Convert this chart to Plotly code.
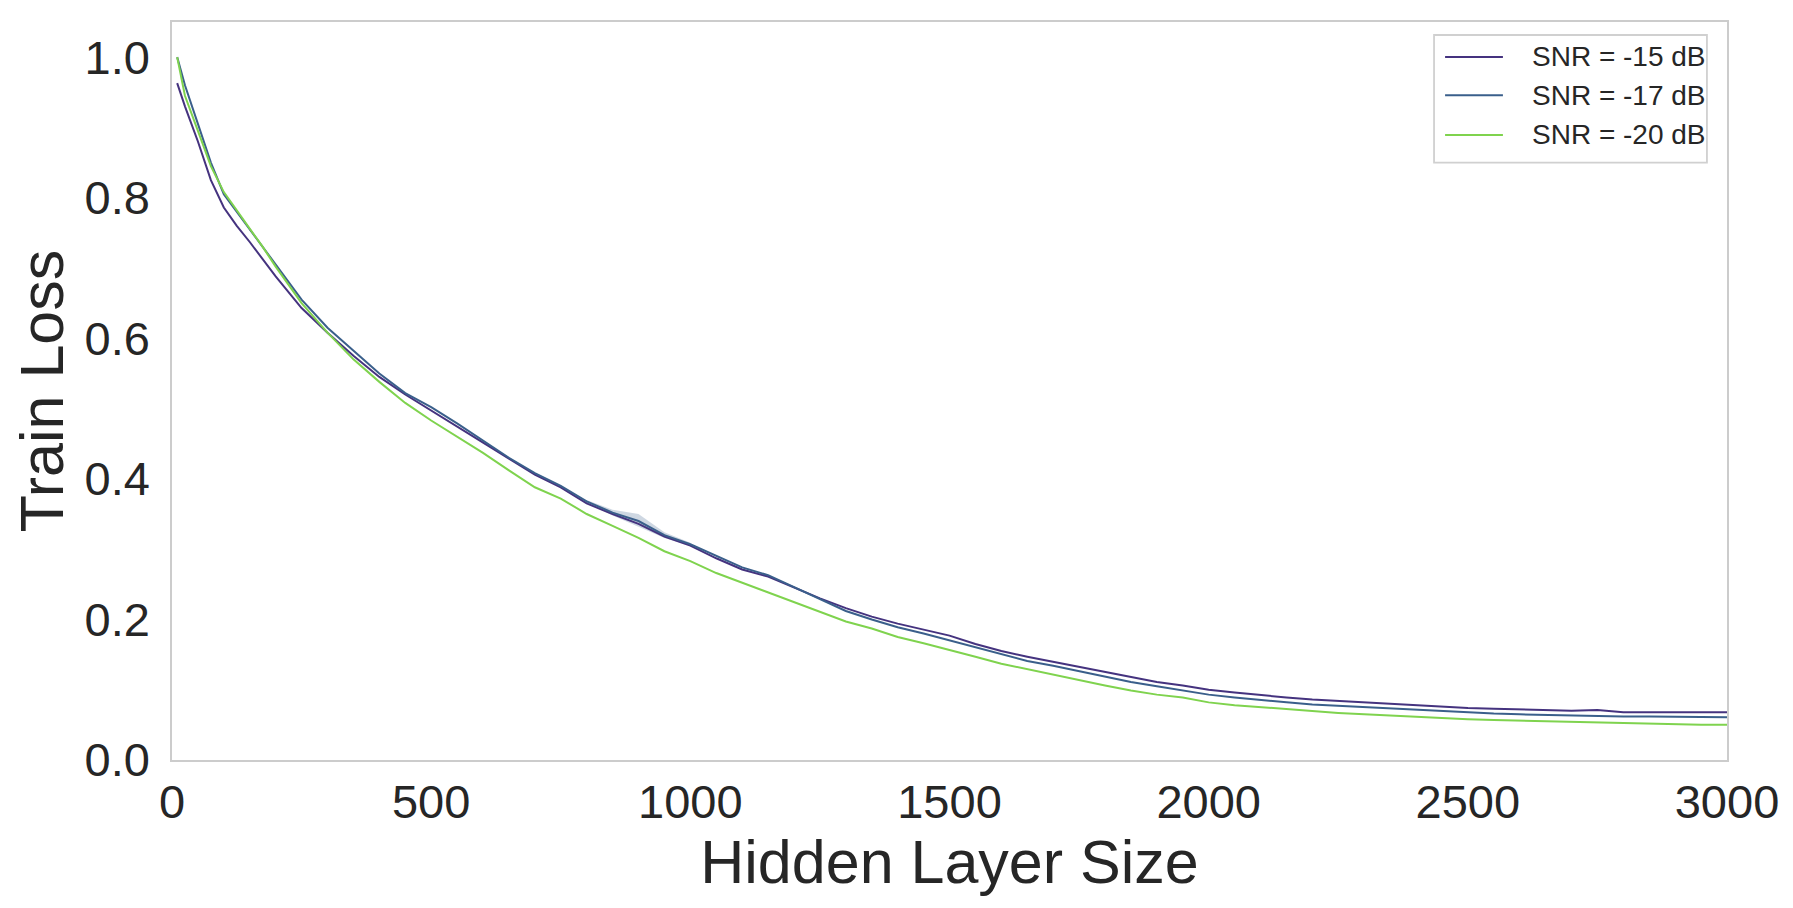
import plotly.graph_objects as go

hidden_sizes = [10, 25, 50, 75, 100, 125, 150, 175, 200, 250, 300, 350, 400, 450, 500, 550,
                600, 650, 700, 750, 800, 850, 900, 950, 1000, 1050, 1100, 1150, 1200, 1250,
                1300, 1350, 1400, 1450, 1500, 1550, 1600, 1650, 1700, 1750, 1800, 1850, 1900,
                1950, 2000, 2050, 2100, 2150, 2200, 2250, 2300, 2350, 2400, 2450, 2500, 2550,
                2600, 2650, 2700, 2750, 2800, 2850, 2900, 2950, 3000]

loss_snr_15 = [0.963, 0.930, 0.880, 0.825, 0.786, 0.760, 0.737, 0.713, 0.688, 0.643, 0.608,
               0.575, 0.545, 0.520, 0.497, 0.475, 0.452, 0.428, 0.406, 0.388, 0.365, 0.350,
               0.336, 0.318, 0.305, 0.287, 0.271, 0.261, 0.245, 0.230, 0.216, 0.204, 0.194,
               0.186, 0.177, 0.165, 0.155, 0.147, 0.140, 0.132, 0.125, 0.118, 0.111, 0.106,
               0.100, 0.096, 0.092, 0.089, 0.086, 0.084, 0.081, 0.079, 0.077, 0.076, 0.074,
               0.073, 0.072, 0.071, 0.070, 0.071, 0.068, 0.068, 0.068, 0.068, 0.068]

loss_snr_17 = [1.000, 0.960, 0.905, 0.850, 0.805, 0.780, 0.755, 0.730, 0.705, 0.655, 0.615,
               0.583, 0.550, 0.522, 0.502, 0.479, 0.455, 0.430, 0.408, 0.390, 0.368, 0.352,
               0.340, 0.320, 0.307, 0.290, 0.274, 0.263, 0.246, 0.229, 0.212, 0.200, 0.189,
               0.180, 0.170, 0.160, 0.150, 0.141, 0.134, 0.126, 0.118, 0.111, 0.105, 0.099,
               0.093, 0.089, 0.085, 0.082, 0.079, 0.077, 0.075, 0.073, 0.071, 0.070, 0.068,
               0.066, 0.065, 0.064, 0.063, 0.063, 0.062, 0.062, 0.062, 0.061, 0.061]

loss_snr_20 = [1.000, 0.945, 0.895, 0.845, 0.808, 0.782, 0.755, 0.730, 0.702, 0.650, 0.608,
               0.570, 0.538, 0.508, 0.483, 0.460, 0.437, 0.412, 0.388, 0.372, 0.350, 0.333,
               0.316, 0.297, 0.283, 0.266, 0.252, 0.239, 0.224, 0.211, 0.197, 0.187, 0.175,
               0.166, 0.157, 0.147, 0.137, 0.129, 0.121, 0.113, 0.106, 0.099, 0.093, 0.089,
               0.082, 0.078, 0.075, 0.072, 0.069, 0.067, 0.065, 0.063, 0.061, 0.060, 0.058,
               0.057, 0.056, 0.055, 0.054, 0.053, 0.052, 0.051, 0.051, 0.050, 0.050]

# small confidence band visible around 900 for SNR = -17 dB
band_x = [800, 850, 900, 950, 1000]
band_upper = [0.370, 0.356, 0.350, 0.324, 0.309]
band_lower = [0.366, 0.348, 0.332, 0.316, 0.305]

series_names = ["SNR = -15 dB", "SNR = -17 dB", "SNR = -20 dB"]
series_colors = ["#45337f", "#3a5f8b", "#7fd34e"]

x_ticks = [0, 500, 1000, 1500, 2000, 2500, 3000]
y_ticks = [0.0, 0.2, 0.4, 0.6, 0.8, 1.0]

fig = go.Figure()

fig.add_trace(go.Scatter(
    x=band_x + band_x[::-1], y=band_upper + band_lower[::-1],
    fill="toself", fillcolor="rgba(58,95,139,0.25)", line=dict(width=0),
    mode="lines", showlegend=False, hoverinfo="skip"))

for name, ys, col in zip(series_names, [loss_snr_15, loss_snr_17, loss_snr_20], series_colors):
    fig.add_trace(go.Scatter(x=hidden_sizes, y=ys, mode="lines", name=name,
                             line=dict(color=col, width=2), showlegend=False))

# legend drawn in paper coordinates (matplotlib-style: longer handles with a gap)
legend_box = dict(x0=0.8116, x1=0.9871, y0=0.8095, y1=0.9824)
legend_rows = [0.9527, 0.9009, 0.8469]
handle_x0, handle_x1, text_x = 0.8187, 0.8559, 0.8733

shapes = [dict(type="rect", xref="paper", yref="paper", layer="above",
               fillcolor="white", line=dict(color="#d0d0d0", width=1.8), **legend_box)]
annotations = []
for name, col, ry in zip(series_names, series_colors, legend_rows):
    shapes.append(dict(type="line", xref="paper", yref="paper", layer="above",
                       x0=handle_x0, x1=handle_x1, y0=ry, y1=ry,
                       line=dict(color=col, width=2)))
    annotations.append(dict(xref="paper", yref="paper", x=text_x, y=ry, text=name,
                            showarrow=False, xanchor="left", yanchor="middle",
                            font=dict(size=28, color="#262626")))

axis_common = dict(showgrid=False, zeroline=False, showline=True, linecolor="#cccccc",
                   linewidth=1.5, mirror=True, ticks="", color="#262626")

# page body has an 8px margin, so the figure is sized/offset to compensate
fig.update_layout(
    width=1785, height=900,
    margin=dict(l=164, r=66, t=12, b=148),
    paper_bgcolor="white", plot_bgcolor="white",
    font=dict(family="Liberation Sans, Arial, sans-serif", color="#262626"),
    xaxis=dict(range=[0, 3000], tickvals=x_ticks, ticktext=[str(v) for v in x_ticks],
               tickfont=dict(size=47), ticklabelstandoff=0,
               title=dict(text="Hidden Layer Size", font=dict(size=61), standoff=0),
               **axis_common),
    yaxis=dict(range=[0, 1.05], tickvals=y_ticks, ticktext=[f"{v:.1f}" for v in y_ticks],
               tickfont=dict(size=47), ticklabelstandoff=11,
               title=dict(text="Train Loss", font=dict(size=61), standoff=18),
               **axis_common),
    shapes=shapes,
    annotations=annotations,
)

fig.write_html("out.html")
